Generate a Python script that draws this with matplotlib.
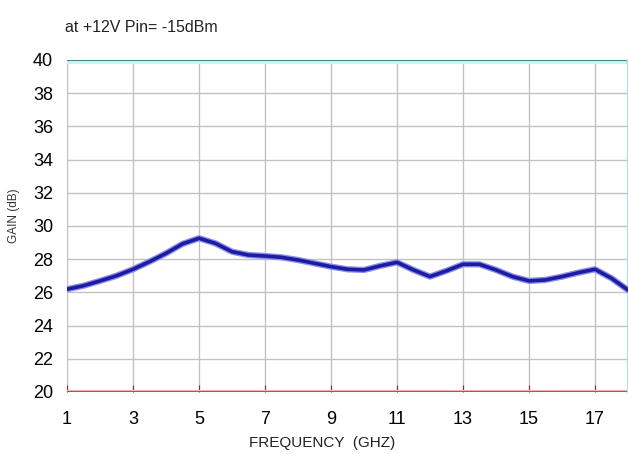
import numpy as np
import matplotlib
matplotlib.use('Agg')
import matplotlib.pyplot as plt

plt.rcParams['font.family'] = ['Liberation Sans', 'DejaVu Sans']

# frequency (GHz) and gain (dB)
freq = [1, 1.5, 2, 2.5, 3, 3.5, 4, 4.5, 5, 5.5, 6, 6.5, 7, 7.5, 8, 8.5, 9, 9.5, 10, 10.5,
        11, 11.5, 12, 12.5, 13, 13.5, 14, 14.5, 15, 15.5, 16, 16.5, 17, 17.5, 18]
gain = [26.19, 26.4, 26.69, 27.0, 27.39, 27.85, 28.35, 28.92, 29.26, 28.95, 28.45,
        28.25, 28.19, 28.11, 27.95, 27.75, 27.55, 27.39, 27.35, 27.6, 27.81, 27.35,
        26.95, 27.3, 27.69, 27.69, 27.35, 26.95, 26.69, 26.75, 26.95, 27.19, 27.39,
        26.85, 26.14]

xticks = [1, 3, 5, 7, 9, 11, 13, 15, 17]
yticks = list(range(20, 41, 2))

fig = plt.figure(figsize=(6.28, 4.54), dpi=100)
ax = fig.add_axes([0.1067, 0.1366, 0.8933, 0.7314])

ax.set_xlim(1, 18)
ax.set_ylim(20, 40)
ax.set_xticks(xticks)
ax.set_yticks(yticks)
ax.grid(True, color='#c2c2c2', linewidth=1.0)
ax.set_axisbelow(True)

for s in ['left', 'right', 'top', 'bottom']:
    ax.spines[s].set_visible(False)

# top teal line, bottom red line, right cyan edge
ax.axhline(40, color='#c8f4f4', linewidth=5, zorder=2)
ax.axhline(40, color='#4f8c84', linewidth=1.5, zorder=3)
ax.axhline(20, color='#f3b0b0', linewidth=3, zorder=2)
ax.axhline(20, color='#d23a3a', linewidth=1.3, zorder=3)
ax.axvline(18, color='#9ee6ee', linewidth=1.5, zorder=3, clip_on=False)

# curve with light halo
ax.plot(freq, gain, color='#8c8cf0', linewidth=4.5, solid_capstyle='round',
        solid_joinstyle='round', zorder=4)
ax.plot(freq, gain, color='#1c1ca0', linewidth=2.6, solid_capstyle='round',
        solid_joinstyle='round', zorder=5)

ax.tick_params(axis='x', direction='in', length=5, color='#7a3030', labelsize=13, pad=14)
ax.tick_params(axis='y', length=0, labelsize=13, pad=10)

fig.text(0.104, 0.94, 'at +12V Pin= -15dBm', fontsize=11.5, ha='left', va='center', color='#222222')
fig.text(0.022, 0.525, 'GAIN (dB)', fontsize=8.5, rotation=90, ha='center', va='center', color='#333333')
fig.text(0.513, 0.024, 'FREQUENCY  (GHZ)', fontsize=11, ha='center', va='center', color='#222222')

fig.savefig('out.png', dpi=100)
